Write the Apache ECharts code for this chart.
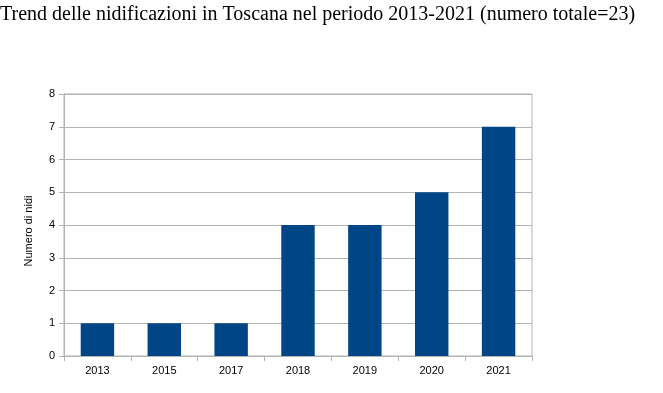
<!DOCTYPE html>
<html><head><meta charset="utf-8">
<script src="https://cdn.jsdelivr.net/npm/echarts@6/dist/echarts.min.js"></script>
<style>html,body{margin:0;padding:0;background:#fff}#c{width:663px;height:393px}</style>
</head><body><div id="c"></div>
<script>
const titleText = "Trend delle nidificazioni in Toscana nel periodo 2013-2021 (numero totale=23)";
const yAxisName = "Numero di nidi";
const years = ["2013","2015","2017","2018","2019","2020","2021"];
const nests = [1,1,1,4,4,5,7];

const chart = echarts.init(document.getElementById('c'), null, {renderer:'canvas'});
chart.setOption({
  animation:false,
  title:{text:titleText,left:0,top:5,padding:0,textStyle:{fontFamily:'Liberation Serif',fontSize:20,fontWeight:'normal',color:'#000'}},
  grid:{left:64,right:131,top:94,bottom:37,show:true,borderColor:'#b3b3b3',borderWidth:1},
  xAxis:{type:'category',data:years,
    axisLine:{lineStyle:{color:'#b3b3b3'}},
    axisTick:{show:true,length:5,lineStyle:{color:'#b3b3b3'}},
    axisLabel:{fontFamily:'Liberation Sans',fontSize:11,color:'#000',margin:9}},
  yAxis:{type:'value',min:0,max:8,interval:1,name:yAxisName,nameLocation:'middle',nameGap:30,
    nameTextStyle:{fontFamily:'Liberation Sans',fontSize:11,color:'#000',padding:[0,12,0,0]},
    axisLine:{show:true,lineStyle:{color:'#b3b3b3'}},
    axisTick:{show:true,length:5,lineStyle:{color:'#b3b3b3'}},
    splitLine:{lineStyle:{color:'#b3b3b3'}},
    axisLabel:{fontFamily:'Liberation Sans',fontSize:11,color:'#000',margin:9}},
  series:[{type:'bar',data:nests,barWidth:'50%',itemStyle:{color:'#004586'}}]
});
</script></body></html>
